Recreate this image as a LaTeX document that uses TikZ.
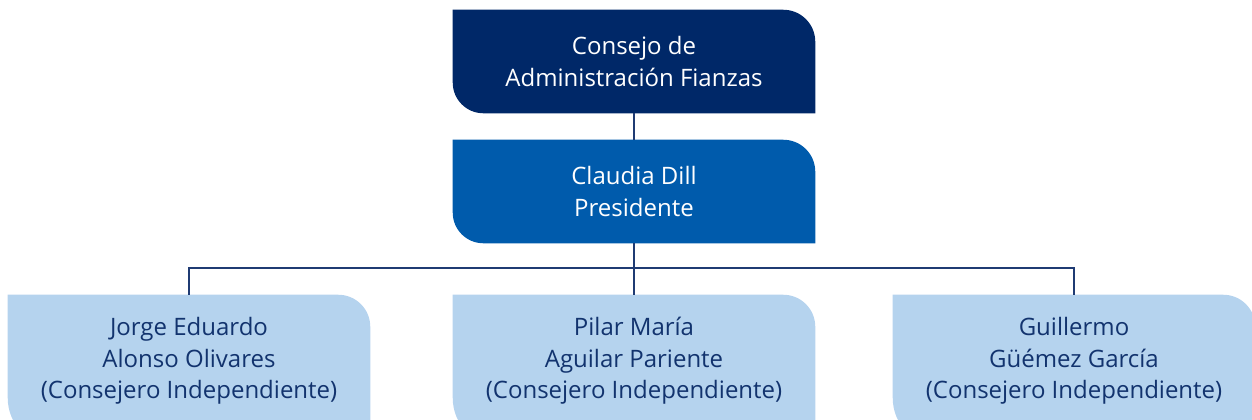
\documentclass[tikz,border=0pt]{standalone}
\usepackage{fontspec}
\setmainfont{Open Sans}
\definecolor{navy}{HTML}{002868}
\definecolor{midblue}{HTML}{005BAC}
\definecolor{lightblue}{HTML}{B5D3EE}
\definecolor{darktext}{HTML}{12336E}
\definecolor{linec}{HTML}{1F3B73}
% #1 node, #2 colour, #3 extra depth below south, #4 lower-left radius
\newcommand{\tabfill}[4]{%
  \fill[#2] (#1.north west) -- ([xshift=-24pt]#1.north east)
    arc[start angle=90,end angle=0,radius=24pt]
    -- ([yshift=-#3]#1.south east) -- ([xshift=#4,yshift=-#3]#1.south west)
    arc[start angle=270,end angle=180,radius=#4] -- cycle;}
\begin{document}
\begin{tikzpicture}[x=0.75pt,y=-0.75pt,
  box/.style={rectangle,inner sep=0pt,minimum width=271.5pt,align=center,
    font=\fontsize{18}{23.6}\selectfont},
  topbox/.style={box,minimum height=77.25pt,text=white},
  lowbox/.style={box,minimum height=99pt,text=darktext},
  conn/.style={draw=linec,line width=1pt}]
\useasboundingbox (0,0) rectangle (1252,419);
\begin{scope}
\clip (0,0) rectangle (1252,419);
\node[topbox] (board) at (634,61.5) {};
\node[topbox] (pres) at (634,191.5) {};
\node[lowbox] (m1) at (189,361) {};
\node[lowbox] (m2) at (634,361) {};
\node[lowbox] (m3) at (1074,361) {};
\tabfill{board}{navy}{0pt}{23pt}
\tabfill{pres}{midblue}{0pt}{23pt}
\tabfill{m1}{lightblue}{15pt}{37pt}
\tabfill{m2}{lightblue}{15pt}{37pt}
\tabfill{m3}{lightblue}{15pt}{37pt}
\node[topbox] at (board) {Consejo de\\Administración Fianzas};
\node[topbox] at (pres) {Claudia Dill\\Presidente};
\node[lowbox] at (m1) {Jorge Eduardo\\Alonso Olivares\\(Consejero Independiente)};
\node[lowbox] at (m2) {Pilar María\\Aguilar Pariente\\(Consejero Independiente)};
\node[lowbox] at (m3) {Guillermo\\Güémez García\\(Consejero Independiente)};
\end{scope}
\coordinate (bus) at (634,268);
\draw[conn] (board.south) -- (pres.north);
\draw[conn] (pres.south) -- (m2.north);
\draw[conn] (m1.north) |- (bus) -| (m3.north);
\end{tikzpicture}
\end{document}
